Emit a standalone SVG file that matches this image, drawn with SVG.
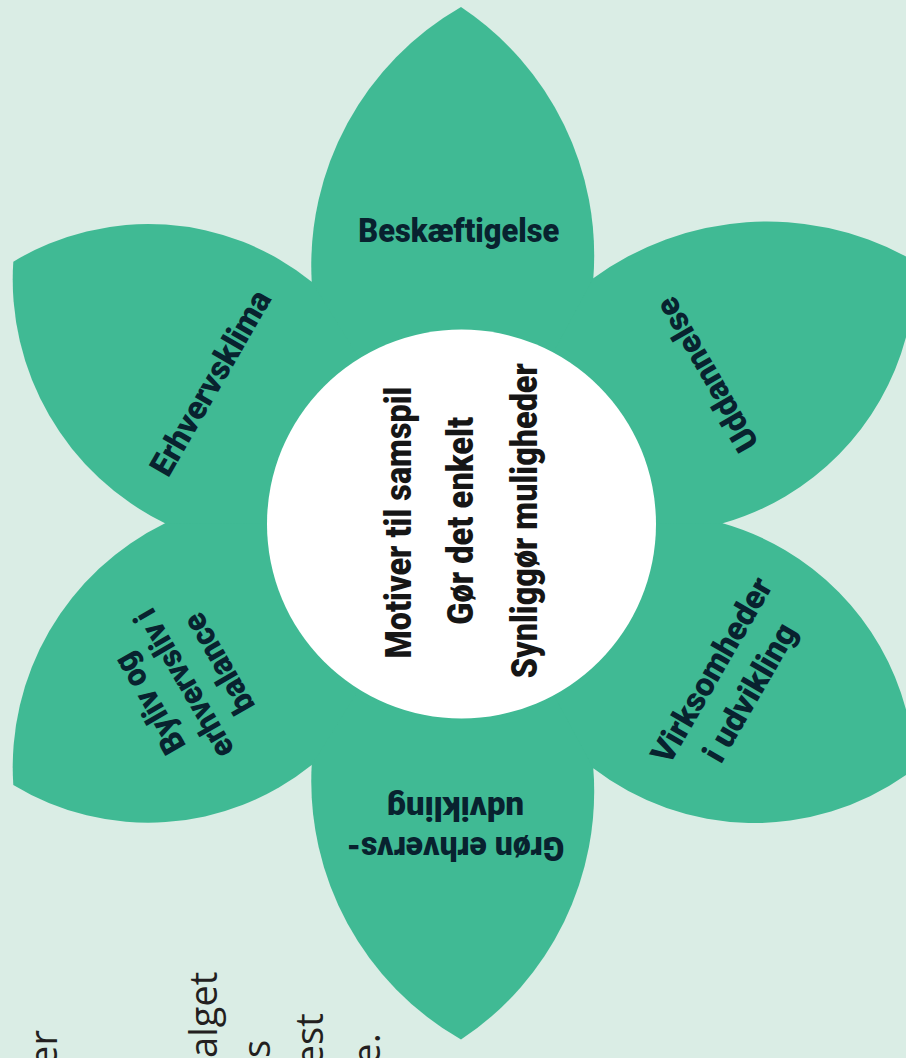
<svg xmlns="http://www.w3.org/2000/svg" width="906" height="1058" viewBox="0 0 906 1058">
  <style>
    .petal { fill: #40ba94; }
    .lbl { font-family: Roboto, "Liberation Sans", sans-serif; font-weight: 900; font-size: 33px; fill: #08222f; text-anchor: middle; }
    .core { font-family: Roboto, "Liberation Sans", sans-serif; font-weight: 900; font-size: 36px; fill: #161616; text-anchor: middle; }
    .frag { font-family: "Open Sans", "Liberation Sans", sans-serif; font-weight: 400; font-size: 38px; fill: #231f20; text-anchor: end; }
  </style>
  <rect width="906" height="1058" fill="#daede5"/>

  <!-- base fill under petals (hides seams) -->
  <polygon class="petal" points="311.7,281.7 593.3,278.3 722.7,523.3 593.3,768.3 311.7,765 165,523.3"/>

  <g id="petal-beskaeftigelse">
    <path class="petal" d="M461.5 524 L311.7 281.7 A298 298 0 0 1 461 7 A298 298 0 0 1 593.3 278.3 Z"/>
    <text class="lbl" x="458.8" y="241.7" textLength="201" lengthAdjust="spacingAndGlyphs">Beskæftigelse</text>
  </g>

  <g id="petal-uddannelse">
    <path class="petal" d="M461.5 524 L593.3 278.3 A294 294 0 0 1 906 256.5 L940 256.5 L940 337.2 L906 337.2 A264.6 264.6 0 0 1 722.7 523.3 Z"/>
    <g transform="translate(706.2,375) rotate(-120)">
      <text class="lbl" x="0" y="12" textLength="172" lengthAdjust="spacingAndGlyphs">Uddannelse</text>
    </g>
  </g>

  <g id="petal-virksomheder">
    <path class="petal" d="M461.5 524 L722.7 523.3 A264.6 264.6 0 0 1 906 709.4 L940 709.4 L940 775 L906 775 A263.7 263.7 0 0 1 593.3 768.3 Z"/>
    <g transform="translate(730,681) rotate(-60)">
      <text class="lbl" x="0" y="-10" textLength="208" lengthAdjust="spacingAndGlyphs">Virksomheder</text>
      <text class="lbl" x="0" y="34" textLength="154" lengthAdjust="spacingAndGlyphs">i udvikling</text>
    </g>
  </g>

  <g id="petal-groen">
    <path class="petal" d="M461.5 524 L593.3 768.3 A298 298 0 0 1 461 1039.6 A298 298 0 0 1 311.7 765 Z"/>
    <g transform="rotate(180 455.5 817)">
      <text class="lbl" x="455.5" y="797" textLength="218" lengthAdjust="spacingAndGlyphs">Grøn erhvervs-</text>
      <text class="lbl" x="455.5" y="837" textLength="137" lengthAdjust="spacingAndGlyphs">udvikling</text>
    </g>
  </g>

  <g id="petal-byliv">
    <path class="petal" d="M461.5 524 L311.7 765 A260.3 260.3 0 0 1 13.3 784.9 A271.4 271.4 0 0 1 165 523.3 Z"/>
    <g transform="translate(183.3,684) rotate(-120)">
      <text class="lbl" x="0" y="-28" textLength="110" lengthAdjust="spacingAndGlyphs">Byliv og</text>
      <text class="lbl" x="0" y="12" textLength="166" lengthAdjust="spacingAndGlyphs">erhvervsliv i</text>
      <text class="lbl" x="0" y="52" textLength="110" lengthAdjust="spacingAndGlyphs">balance</text>
    </g>
  </g>

  <g id="petal-erhvervsklima">
    <path class="petal" d="M461.5 524 L165 523.3 A271.4 271.4 0 0 1 13.3 261.7 A260.3 260.3 0 0 1 311.7 281.7 Z"/>
    <g transform="translate(209.8,382.5) rotate(-60)">
      <text class="lbl" x="0" y="12" textLength="208" lengthAdjust="spacingAndGlyphs">Erhvervsklima</text>
    </g>
  </g>

  <g id="center">
    <circle cx="461.5" cy="524" r="194.5" fill="#ffffff"/>
    <g transform="rotate(-90)">
      <text class="core" x="-522.5" y="410.7" textLength="272" lengthAdjust="spacingAndGlyphs">Motiver til samspil</text>
      <text class="core" x="-520.8" y="473.3" textLength="208" lengthAdjust="spacingAndGlyphs">Gør det enkelt</text>
      <text class="core" x="-520.8" y="536.7" textLength="315" lengthAdjust="spacingAndGlyphs">Synliggør muligheder</text>
    </g>
  </g>

  <g id="connectors"></g>

  <g id="page-text" transform="rotate(-90)">
    <text class="frag" x="-1030" y="56.7">er</text>
    <text class="frag" x="-971.7" y="216.7">alget</text>
    <text class="frag" x="-1040" y="270">s</text>
    <text class="frag" x="-1013.3" y="323.3">est</text>
    <text class="frag" x="-1033.3" y="380">e.</text>
  </g>
</svg>
